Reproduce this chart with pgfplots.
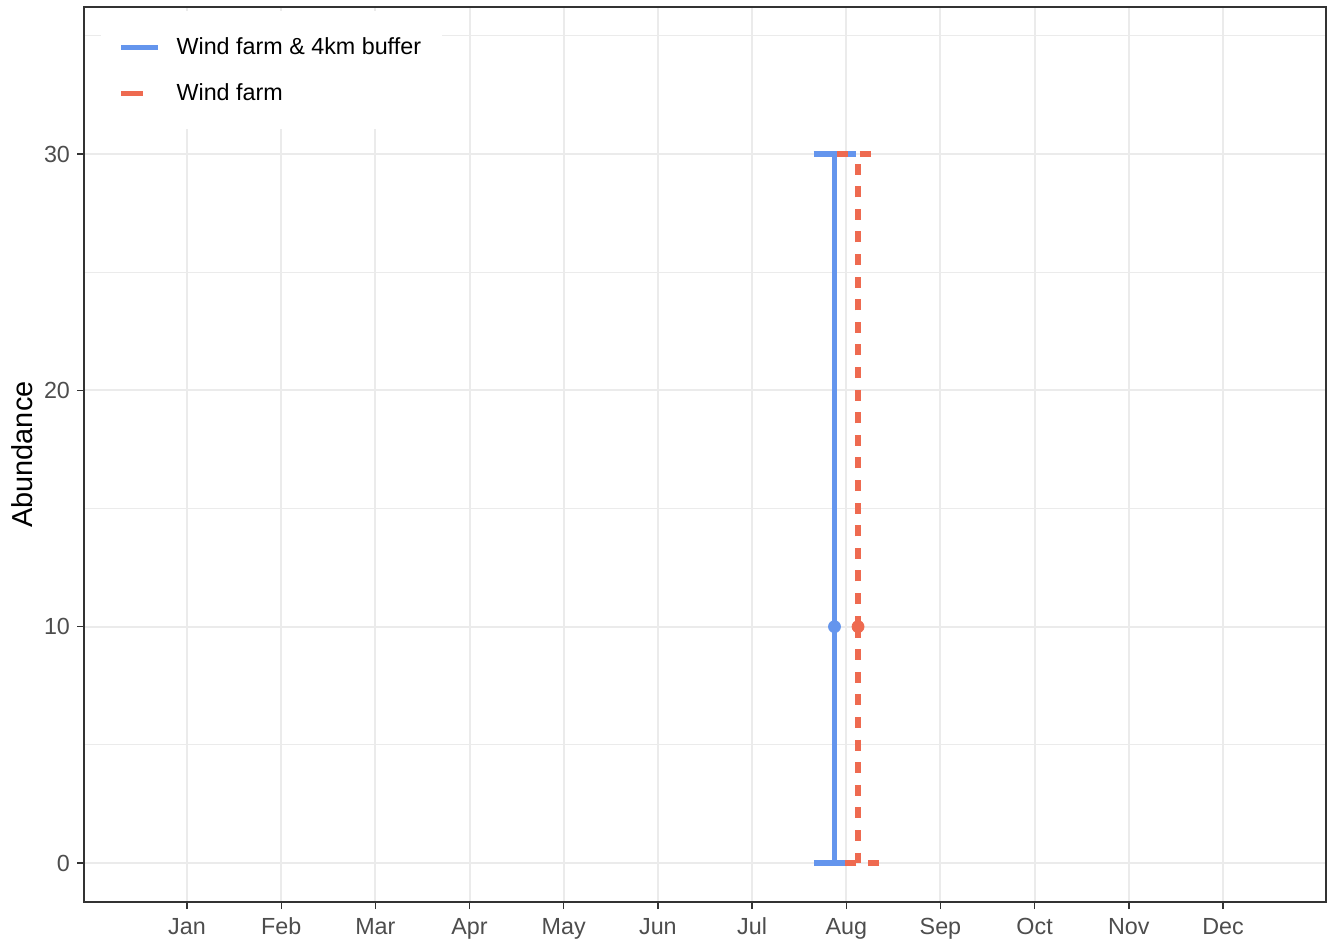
\documentclass[border=0pt]{standalone}
\usepackage{pgfplots}
\pgfplotsset{compat=1.18}
\usepackage{fontspec}
\setmainfont{Liberation Sans}
\definecolor{wfblue}{HTML}{6495ED}
\definecolor{wfred}{HTML}{EE6A50}
\definecolor{gridgray}{HTML}{EBEBEB}
\definecolor{ticktext}{HTML}{4D4D4D}
\definecolor{panelline}{HTML}{333333}
\begin{document}
\begin{tikzpicture}
\begin{axis}[
  scale only axis, width=621bp, height=447.5bp,
  xmin=-0.094, xmax=13.094, ymin=-1.65, ymax=36.22,
  xtick={1,2,3,4,5,6,7,8,9,10,11,12},
  xticklabels={Jan,Feb,Mar,Apr,May,Jun,Jul,Aug,Sep,Oct,Nov,Dec},
  ytick={0,10,20,30}, minor ytick={5,15,25,35},
  xtick pos=lower, ytick pos=left,
  grid=both,
  major grid style={color=gridgray, line width=1bp},
  minor grid style={color=gridgray, line width=0.5bp},
  axis line style={color=panelline, line width=0.7bp},
  major tick style={color=panelline, line width=0.7bp},
  major tick length=3.5bp, minor tick length=0bp, tick align=outside,
  tick label style={font=\fontsize{11.7}{14}\selectfont, color=ticktext},
  xticklabel style={yshift=-1bp},
  /pgf/number format/assume math mode=true,
  ylabel={Abundance},
  every axis y label/.style={at={(rel axis cs:0,0.5)}, rotate=90, anchor=center, yshift=31bp, font=\fontsize{14.5}{17}\selectfont},
  legend style={at={(rel axis cs:0.0137,1)}, anchor=north west, yshift=-2bp,
    draw=none, fill=white, font=\fontsize{11.7}{14}\selectfont,
    row sep=9bp, inner xsep=8.5bp, inner ysep=11bp,
    /tikz/every odd column/.append style={column sep=6bp}},
  legend cell align=left,
]
\addlegendimage{legend image code/.code={\draw[wfblue, line width=2.6bp] (0bp,0bp) -- (18.5bp,0bp);}}
\addlegendentry{Wind farm \& 4km buffer}
\addlegendimage{legend image code/.code={\draw[wfred, line width=2.6bp] (0bp,0bp) -- (11bp,0bp);}}
\addlegendentry{Wind farm}

\addplot[forget plot, color=wfblue, mark=*, mark size=3bp, only marks,
  mark options={fill=wfblue, draw=wfblue},
  error bars/.cd, y dir=both, y explicit,
  error bar style={line width=2.6bp, color=wfblue, solid},
  error mark options={rotate=90, mark size=10.5bp, line width=2.6bp, color=wfblue, solid}]
  coordinates {(7.875,10) += (0,20) -= (0,10)};

\addplot[forget plot, color=wfred, mark=*, mark size=3bp, only marks,
  mark options={fill=wfred, draw=wfred},
  error bars/.cd, y dir=both, y explicit,
  error bar style={line width=2.6bp, color=wfred, dash pattern=on 5.5bp off 5.8bp},
  error mark options={rotate=90, mark size=10.5bp, line width=2.6bp, color=wfred, dash pattern=on 5.5bp off 5.8bp}]
  coordinates {(8.125,10) += (0,20) -= (0,10)};
\end{axis}
\pgfresetboundingbox
\useasboundingbox ([shift={(-42bp,-21bp)}]current axis.south west) rectangle ([shift={(3.5bp,3.5bp)}]current axis.north east);
\end{tikzpicture}
\end{document}
